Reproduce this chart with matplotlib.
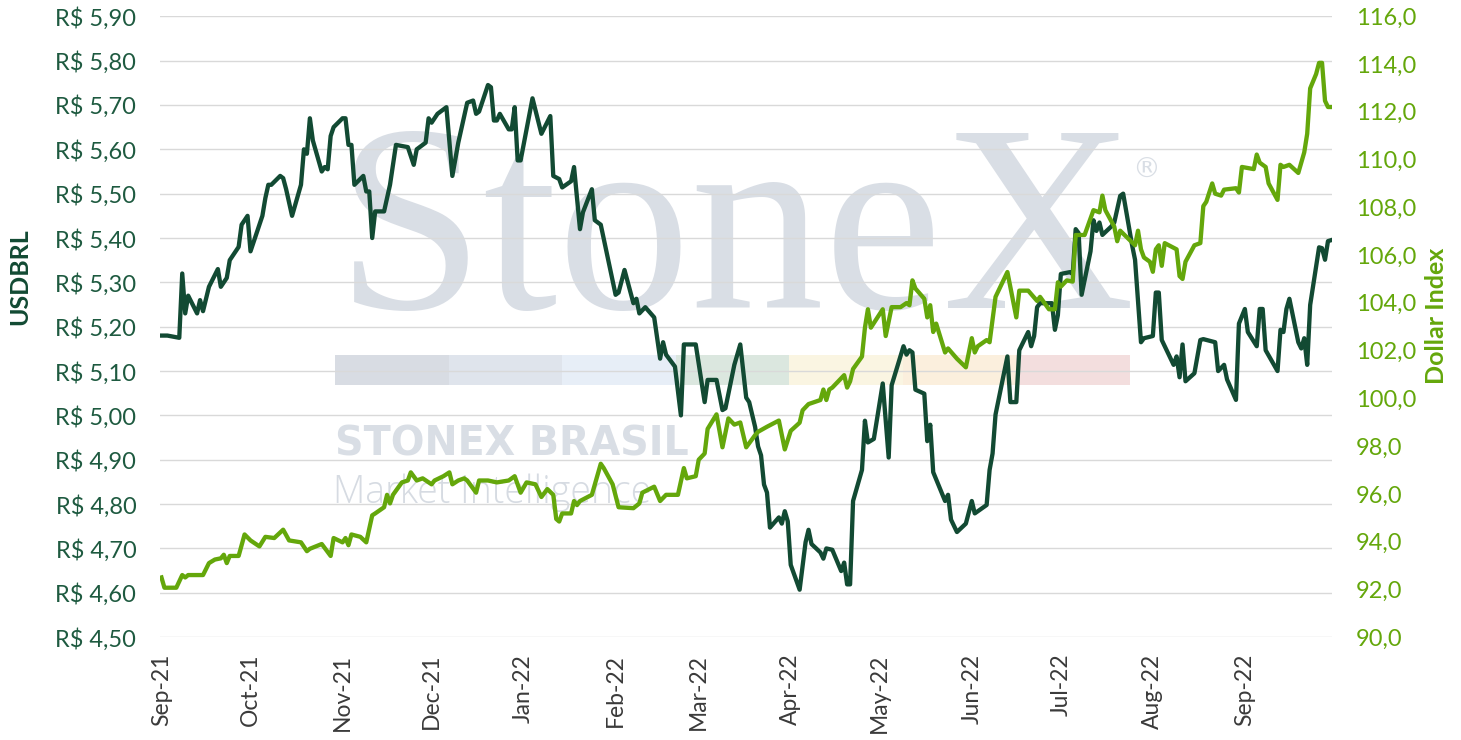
import matplotlib
matplotlib.use("Agg")
import matplotlib.pyplot as plt
import matplotlib.dates as mdates
from matplotlib.patches import Rectangle
from matplotlib.ticker import FuncFormatter, MultipleLocator
import pandas as pd

# USDBRL (left axis)
brl_dates = [
    "2021-09-01", "2021-09-03", "2021-09-07", "2021-09-08", "2021-09-09", "2021-09-10",
    "2021-09-13", "2021-09-14", "2021-09-15", "2021-09-17", "2021-09-20", "2021-09-21",
    "2021-09-23", "2021-09-24", "2021-09-27", "2021-09-28", "2021-09-30", "2021-10-01",
    "2021-10-05", "2021-10-06", "2021-10-07", "2021-10-08", "2021-10-11", "2021-10-12",
    "2021-10-13", "2021-10-15", "2021-10-18", "2021-10-19", "2021-10-20", "2021-10-21",
    "2021-10-22", "2021-10-25", "2021-10-26", "2021-10-27", "2021-10-28", "2021-10-29",
    "2021-11-01", "2021-11-02", "2021-11-03", "2021-11-04", "2021-11-05", "2021-11-08",
    "2021-11-09", "2021-11-10", "2021-11-11", "2021-11-12", "2021-11-15", "2021-11-17",
    "2021-11-19", "2021-11-23", "2021-11-25", "2021-11-26", "2021-11-29", "2021-11-30",
    "2021-12-01", "2021-12-03", "2021-12-06", "2021-12-08", "2021-12-10", "2021-12-13",
    "2021-12-15", "2021-12-16", "2021-12-17", "2021-12-20", "2021-12-21", "2021-12-22",
    "2021-12-23", "2021-12-24", "2021-12-27", "2021-12-28", "2021-12-29", "2021-12-30",
    "2021-12-31", "2022-01-04", "2022-01-07", "2022-01-10", "2022-01-11", "2022-01-13",
    "2022-01-14", "2022-01-17", "2022-01-18", "2022-01-20", "2022-01-21", "2022-01-24",
    "2022-01-25", "2022-01-27", "2022-02-01", "2022-02-02", "2022-02-04", "2022-02-07",
    "2022-02-08", "2022-02-09", "2022-02-11", "2022-02-14", "2022-02-16", "2022-02-17",
    "2022-02-18", "2022-02-21", "2022-02-23", "2022-02-24", "2022-02-28", "2022-03-03",
    "2022-03-04", "2022-03-07", "2022-03-09", "2022-03-10", "2022-03-13", "2022-03-15",
    "2022-03-17", "2022-03-18", "2022-03-20", "2022-03-21", "2022-03-22", "2022-03-23",
    "2022-03-24", "2022-03-25", "2022-03-28", "2022-03-29", "2022-03-30", "2022-03-31",
    "2022-04-01", "2022-04-04", "2022-04-06", "2022-04-07", "2022-04-08", "2022-04-11",
    "2022-04-12", "2022-04-13", "2022-04-15", "2022-04-18", "2022-04-19", "2022-04-20",
    "2022-04-21", "2022-04-22", "2022-04-25", "2022-04-26", "2022-04-27", "2022-04-29",
    "2022-05-02", "2022-05-04", "2022-05-05", "2022-05-09", "2022-05-10", "2022-05-11",
    "2022-05-12", "2022-05-13", "2022-05-16", "2022-05-17", "2022-05-18", "2022-05-19",
    "2022-05-23", "2022-05-24", "2022-05-25", "2022-05-27", "2022-05-30", "2022-06-01",
    "2022-06-02", "2022-06-06", "2022-06-07", "2022-06-08", "2022-06-09", "2022-06-13",
    "2022-06-14", "2022-06-16", "2022-06-17", "2022-06-20", "2022-06-21", "2022-06-22",
    "2022-06-23", "2022-06-24", "2022-06-28", "2022-06-29", "2022-06-30", "2022-07-01",
    "2022-07-04", "2022-07-05", "2022-07-06", "2022-07-07", "2022-07-08", "2022-07-11",
    "2022-07-12", "2022-07-13", "2022-07-14", "2022-07-15", "2022-07-18", "2022-07-19",
    "2022-07-21", "2022-07-22", "2022-07-25", "2022-07-26", "2022-07-28", "2022-07-29",
    "2022-08-01", "2022-08-02", "2022-08-03", "2022-08-04", "2022-08-08", "2022-08-09",
    "2022-08-10", "2022-08-11", "2022-08-12", "2022-08-15", "2022-08-17", "2022-08-18",
    "2022-08-22", "2022-08-23", "2022-08-25", "2022-08-26", "2022-08-29", "2022-08-30",
    "2022-09-01", "2022-09-02", "2022-09-05", "2022-09-06", "2022-09-07", "2022-09-08",
    "2022-09-12", "2022-09-13", "2022-09-14", "2022-09-15", "2022-09-16", "2022-09-19",
    "2022-09-20", "2022-09-21", "2022-09-22", "2022-09-23", "2022-09-26", "2022-09-27",
    "2022-09-28", "2022-09-29", "2022-09-30",
]
brl_values = [
    5.18, 5.18, 5.175, 5.32, 5.23, 5.27,
    5.23, 5.26, 5.235, 5.29, 5.33, 5.29,
    5.31, 5.35, 5.38, 5.43, 5.45, 5.37,
    5.45, 5.49, 5.52, 5.52, 5.54, 5.535,
    5.51, 5.45, 5.52, 5.60, 5.59, 5.67,
    5.62, 5.55, 5.56, 5.555, 5.63, 5.65,
    5.67, 5.67, 5.61, 5.61, 5.52, 5.54,
    5.505, 5.505, 5.40, 5.46, 5.46, 5.52,
    5.61, 5.605, 5.565, 5.60, 5.615, 5.67,
    5.66, 5.68, 5.695, 5.54, 5.615, 5.705,
    5.71, 5.68, 5.685, 5.745, 5.74, 5.665,
    5.665, 5.68, 5.645, 5.645, 5.695, 5.575,
    5.575, 5.715, 5.635, 5.675, 5.54, 5.533,
    5.514, 5.528, 5.56, 5.42, 5.458, 5.51,
    5.44, 5.43, 5.272, 5.277, 5.328, 5.253,
    5.263, 5.23, 5.244, 5.221, 5.128, 5.165,
    5.137, 5.11, 5.00, 5.16, 5.16, 5.03,
    5.08, 5.08, 5.012, 5.016, 5.114, 5.16,
    5.04, 5.03, 4.974, 4.93, 4.91, 4.844,
    4.826, 4.747, 4.77, 4.756, 4.784, 4.761,
    4.663, 4.607, 4.714, 4.742, 4.71, 4.691,
    4.677, 4.70, 4.697, 4.649, 4.668, 4.619,
    4.619, 4.807, 4.877, 4.988, 4.939, 4.947,
    5.072, 4.905, 5.068, 5.156, 5.137, 5.147,
    5.142, 5.058, 5.049, 4.942, 4.979, 4.872,
    4.807, 4.821, 4.765, 4.737, 4.756, 4.807,
    4.779, 4.798, 4.877, 4.914, 5.002, 5.133,
    5.03, 5.03, 5.147, 5.188, 5.156, 5.179,
    5.244, 5.253, 5.253, 5.193, 5.226, 5.319,
    5.323, 5.319, 5.42, 5.411, 5.272, 5.37,
    5.44, 5.416, 5.435, 5.407, 5.426, 5.435,
    5.495, 5.50, 5.384, 5.351, 5.165, 5.174,
    5.179, 5.277, 5.277, 5.17, 5.114, 5.133,
    5.086, 5.16, 5.077, 5.095, 5.17, 5.172,
    5.165, 5.10, 5.114, 5.081, 5.035, 5.207,
    5.24, 5.188, 5.156, 5.24, 5.24, 5.147,
    5.10, 5.193, 5.188, 5.24, 5.263, 5.165,
    5.151, 5.174, 5.114, 5.249, 5.379, 5.377,
    5.351, 5.393, 5.395,
]

# Dollar Index (right axis)
dxy_dates = [
    "2021-09-01", "2021-09-02", "2021-09-06", "2021-09-08", "2021-09-09", "2021-09-10",
    "2021-09-15", "2021-09-17", "2021-09-19", "2021-09-21", "2021-09-22", "2021-09-23",
    "2021-09-24", "2021-09-27", "2021-09-29", "2021-10-01", "2021-10-04", "2021-10-06",
    "2021-10-09", "2021-10-12", "2021-10-14", "2021-10-18", "2021-10-20", "2021-10-21",
    "2021-10-25", "2021-10-28", "2021-10-29", "2021-11-01", "2021-11-02", "2021-11-03",
    "2021-11-04", "2021-11-07", "2021-11-09", "2021-11-11", "2021-11-12", "2021-11-15",
    "2021-11-16", "2021-11-17", "2021-11-18", "2021-11-21", "2021-11-23", "2021-11-24",
    "2021-11-26", "2021-11-28", "2021-12-01", "2021-12-02", "2021-12-05", "2021-12-07",
    "2021-12-08", "2021-12-10", "2021-12-12", "2021-12-13", "2021-12-16", "2021-12-17",
    "2021-12-20", "2021-12-23", "2021-12-27", "2021-12-29", "2021-12-31", "2022-01-02",
    "2022-01-05", "2022-01-07", "2022-01-09", "2022-01-11", "2022-01-12", "2022-01-13",
    "2022-01-14", "2022-01-17", "2022-01-18", "2022-01-19", "2022-01-20", "2022-01-24",
    "2022-01-27", "2022-01-28", "2022-01-31", "2022-02-02", "2022-02-07", "2022-02-09",
    "2022-02-10", "2022-02-14", "2022-02-16", "2022-02-18", "2022-02-22", "2022-02-24",
    "2022-02-25", "2022-02-28", "2022-03-01", "2022-03-03", "2022-03-04", "2022-03-07",
    "2022-03-09", "2022-03-11", "2022-03-13", "2022-03-15", "2022-03-17", "2022-03-20",
    "2022-03-21", "2022-03-24", "2022-03-28", "2022-03-30", "2022-04-01", "2022-04-04",
    "2022-04-05", "2022-04-07", "2022-04-11", "2022-04-12", "2022-04-13", "2022-04-14",
    "2022-04-15", "2022-04-19", "2022-04-20", "2022-04-21", "2022-04-22", "2022-04-25",
    "2022-04-26", "2022-04-27", "2022-04-28", "2022-05-02", "2022-05-03", "2022-05-05",
    "2022-05-08", "2022-05-10", "2022-05-11", "2022-05-12", "2022-05-13", "2022-05-16",
    "2022-05-17", "2022-05-18", "2022-05-19", "2022-05-20", "2022-05-23", "2022-05-24",
    "2022-05-27", "2022-05-30", "2022-06-01", "2022-06-02", "2022-06-03", "2022-06-06",
    "2022-06-07", "2022-06-09", "2022-06-13", "2022-06-16", "2022-06-17", "2022-06-20",
    "2022-06-23", "2022-06-24", "2022-06-27", "2022-06-29", "2022-06-30", "2022-07-01",
    "2022-07-03", "2022-07-05", "2022-07-06", "2022-07-09", "2022-07-12", "2022-07-14",
    "2022-07-15", "2022-07-16", "2022-07-19", "2022-07-20", "2022-07-21", "2022-07-26",
    "2022-07-27", "2022-07-28", "2022-07-29", "2022-07-31", "2022-08-01", "2022-08-02",
    "2022-08-03", "2022-08-04", "2022-08-05", "2022-08-09", "2022-08-10", "2022-08-11",
    "2022-08-12", "2022-08-15", "2022-08-17", "2022-08-18", "2022-08-19", "2022-08-21",
    "2022-08-22", "2022-08-24", "2022-08-25", "2022-08-29", "2022-08-30", "2022-08-31",
    "2022-09-04", "2022-09-05", "2022-09-06", "2022-09-08", "2022-09-09", "2022-09-12",
    "2022-09-13", "2022-09-14", "2022-09-16", "2022-09-19", "2022-09-21", "2022-09-22",
    "2022-09-23", "2022-09-25", "2022-09-26", "2022-09-27", "2022-09-28", "2022-09-29",
    "2022-09-30",
]
dxy_values = [
    92.5, 92.07, 92.07, 92.6, 92.5, 92.6,
    92.6, 93.1, 93.25, 93.3, 93.45, 93.1,
    93.4, 93.4, 94.3, 94.05, 93.8, 94.2,
    94.15, 94.5, 94.05, 93.97, 93.6, 93.7,
    93.9, 93.4, 94.15, 93.97, 94.15, 93.85,
    94.3, 94.2, 93.97, 95.1, 95.18, 95.44,
    95.96, 95.6, 95.96, 96.48, 96.56, 96.9,
    96.56, 96.65, 96.4, 96.56, 96.74, 96.9,
    96.4, 96.56, 96.65, 96.56, 96.05, 96.56,
    96.56, 96.48, 96.56, 96.74, 96.05, 96.48,
    96.4, 95.87, 96.2, 95.96, 94.95, 94.84,
    95.18, 95.18, 95.7, 95.53, 95.7, 95.96,
    97.26, 97.08, 96.4, 95.44, 95.4, 95.6,
    96.05, 96.3, 95.7, 95.96, 95.96, 97.08,
    96.65, 96.74, 97.43, 97.69, 98.72, 99.33,
    97.95, 99.16, 98.9, 98.99, 97.95, 98.46,
    98.6, 98.81, 99.07, 97.86, 98.64, 98.98,
    99.5, 99.76, 99.93, 100.37, 99.93, 100.37,
    100.45, 100.97, 100.45, 100.71, 101.23, 101.75,
    102.96, 103.73, 102.96, 103.73, 102.61, 103.82,
    103.82, 103.99, 103.9, 104.94, 104.6, 104.17,
    103.39, 103.9, 102.78, 103.13, 101.92, 102.09,
    101.66, 101.3, 102.52, 101.92, 102.18, 102.44,
    102.35, 104.25, 105.29, 103.39, 104.51, 104.51,
    104.08, 104.25, 103.73, 103.73, 104.86, 104.68,
    104.94, 104.89, 106.84, 106.84, 107.88, 107.79,
    108.49, 107.88, 107.19, 106.58, 107.02, 106.41,
    107.02, 106.24, 105.9, 105.72, 105.3, 106.24,
    106.41, 105.55, 106.5, 106.24, 105.12, 105.0,
    105.72, 106.41, 106.5, 108.05, 108.23, 109.0,
    108.57, 108.49, 108.74, 108.8, 108.62, 109.69,
    109.6, 110.21, 109.87, 109.69, 109.0, 108.31,
    109.78, 109.69, 109.78, 109.44, 110.3, 111.08,
    112.98, 113.58, 114.05, 114.05, 112.46, 112.2,
    112.2,
]

DARK = "#124a33"
LIGHT = "#64a70b"
WATERMARK = "#d9dee5"

brl = pd.Series(brl_values, index=pd.to_datetime(brl_dates))
dxy = pd.Series(dxy_values, index=pd.to_datetime(dxy_dates))

plt.rcParams["font.family"] = ["Lato", "DejaVu Sans"]

fig = plt.figure(figsize=(14.61, 7.40), dpi=100)
ax = fig.add_axes([0.1095, 0.139, 0.8025, 0.839])
ax2 = ax.twinx()

# watermark, drawn behind grid and lines
ax.text(335 / 1461, 1 - 308 / 740, "StoneX", transform=fig.transFigure,
        family="Liberation Serif", fontsize=192, color=WATERMARK,
        ha="left", va="baseline", zorder=0.1)
ax.text(1132 / 1461, 1 - 178 / 740, "®", transform=fig.transFigure,
        family="DejaVu Sans", fontsize=20, color=WATERMARK,
        ha="left", va="baseline", zorder=0.1)
strip = ["#d8dce3", "#dfe4ec", "#e7eef7", "#dbe7df", "#faf5e2", "#fbefdd", "#f3dede"]
seg = (1130 - 335) / len(strip)
for i, c in enumerate(strip):
    ax.add_patch(Rectangle(((335 + i * seg) / 1461, 1 - 385 / 740), seg / 1461, 30 / 740,
                           transform=fig.transFigure, facecolor=c, edgecolor="none",
                           zorder=0.1, clip_on=False))
ax.text(335 / 1461, 1 - 456 / 740, "STONEX BRASIL", transform=fig.transFigure,
        family="DejaVu Sans", fontsize=28.5, fontweight="bold", color=WATERMARK,
        ha="left", va="baseline", zorder=0.1)
ax.text(333 / 1461, 1 - 503 / 740, "Market Intelligence", transform=fig.transFigure,
        family="Open Sans", fontsize=27, fontweight="light", color="#d6dbe2",
        ha="left", va="baseline", zorder=0.1)

ax.plot(brl.index, brl.values, color=DARK, lw=3.1, solid_joinstyle="round", zorder=3)
ax2.plot(dxy.index, dxy.values, color=LIGHT, lw=3.1, solid_joinstyle="round", zorder=3)

ax.set_ylim(4.5, 5.9)
ax.yaxis.set_major_locator(MultipleLocator(0.1))
ax.yaxis.set_major_formatter(FuncFormatter(lambda v, p: "R$ " + f"{v:.2f}".replace(".", ",")))
ax2.set_ylim(90, 116)
ax2.yaxis.set_major_locator(MultipleLocator(2))
ax2.yaxis.set_major_formatter(FuncFormatter(lambda v, p: f"{v:.1f}".replace(".", ",")))

ax.set_xlim(pd.Timestamp("2021-08-31 12:00"), pd.Timestamp("2022-09-30 12:00"))
ax.xaxis.set_major_locator(mdates.MonthLocator())
ax.xaxis.set_major_formatter(mdates.DateFormatter("%b-%y"))

ax.grid(axis="y", color="#d9d9d9", lw=1.0)
ax.set_axisbelow(True)
for a in (ax, ax2):
    for s in a.spines.values():
        s.set_visible(False)
ax.tick_params(axis="y", length=0, pad=17, labelsize=17, labelcolor="#1e5a40")
ax2.tick_params(axis="y", length=0, pad=17, labelsize=17, labelcolor=LIGHT)
ax.tick_params(axis="x", length=0, pad=12, labelsize=16.5, labelcolor="#3a3a3a", labelrotation=90)

fig.text(20 / 1461, 1 - 277 / 740, "USDBRL", rotation=90, fontsize=18, fontweight="bold",
         color=DARK, ha="center", va="center")
fig.text(1437 / 1461, 1 - 316 / 740, "Dollar Index", rotation=90, fontsize=18,
         fontweight="bold", color=LIGHT, ha="center", va="center")

fig.savefig("out.png", dpi=100, facecolor="white")
